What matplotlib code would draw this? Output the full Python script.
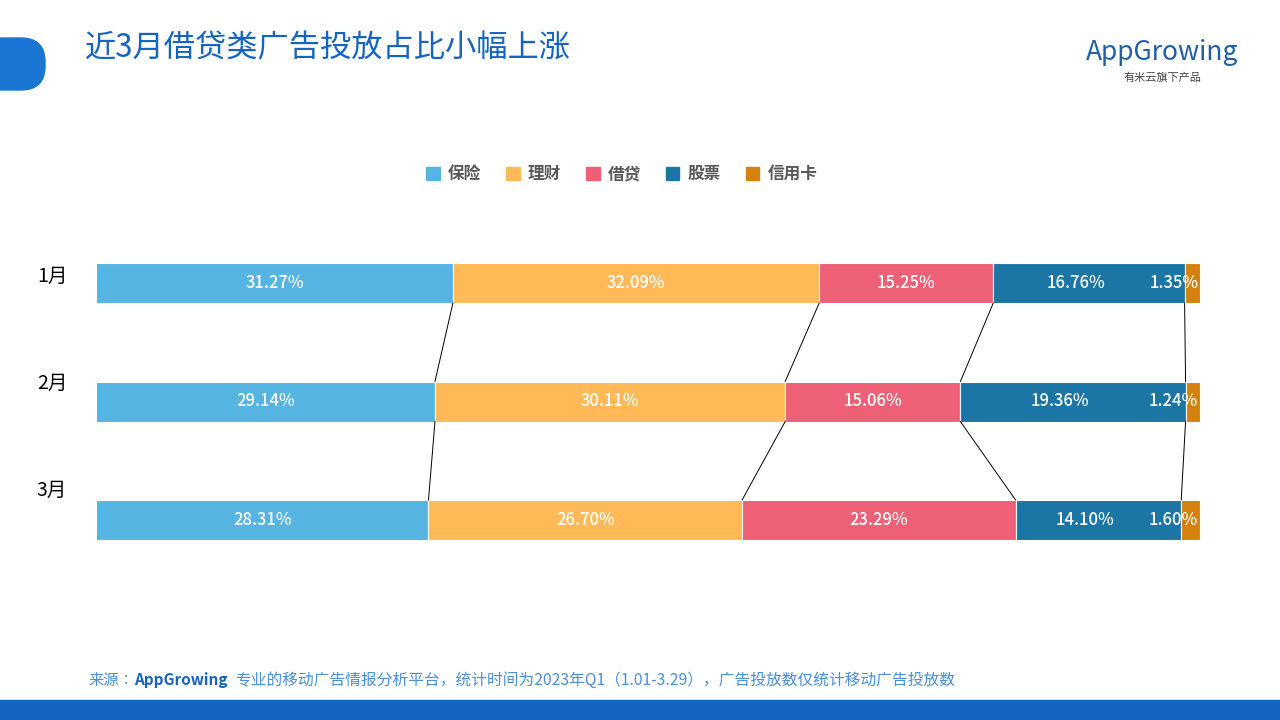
import matplotlib
matplotlib.use("Agg")
import matplotlib.pyplot as plt
from matplotlib.patches import FancyBboxPatch, Rectangle, Patch
import numpy as np

plt.rcParams["font.family"] = ["Noto Sans CJK SC", "Noto Sans CJK JP", "Noto Sans CJK TC", "DejaVu Sans"]

months = ["1月", "2月", "3月"]
series = ["保险", "理财", "借贷", "股票", "信用卡"]
values = [
    [31.27, 32.09, 15.25, 16.76, 1.35],
    [29.14, 30.11, 15.06, 19.36, 1.24],
    [28.31, 26.70, 23.29, 14.10, 1.60],
]
colors = ["#56B4E3", "#FFB957", "#EE6076", "#1B76A6", "#D4810E"]

fig = plt.figure(figsize=(12.8, 7.2), dpi=100)
W, H = 1280, 720

bg = fig.add_axes([0, 0, 1, 1])
bg.set_xlim(0, W); bg.set_ylim(H, 0); bg.axis("off")
bg.add_patch(FancyBboxPatch((-40, 38), 85, 52, boxstyle="round,pad=0,rounding_size=24", color="#1976D2"))
bg.add_patch(Rectangle((0, 700), W, 20, color="#1565C0"))

bh = 40/118.5
ax = fig.add_axes([96/W, 1-540/H, (1200-96)/W, (540-263)/H])
ax.set_xlim(0, 1)
ax.set_ylim(2+bh/2, -bh/2)
ax.axis("off")

ys = [0, 1, 2]
cums = []
for i, row in enumerate(values):
    tot = sum(row)
    fr = np.array(row)/tot
    left = np.concatenate([[0], np.cumsum(fr)[:-1]])
    cums.append(np.cumsum(fr))
    ax.barh(ys[i], fr, left=left, height=bh, color=colors, edgecolor="white", linewidth=0.8)
    for j, v in enumerate(row):
        if j == 4:
            ax.text(0.9985, ys[i], f"{v:.2f}%", ha="right", va="center", color="white", fontsize=12, weight="medium")
        elif j == 3:
            ax.text(left[j]+fr[j]*0.5 - 0.012, ys[i], f"{v:.2f}%", ha="center", va="center", color="white", fontsize=12, weight="medium")
        else:
            ax.text(left[j]+fr[j]/2, ys[i], f"{v:.2f}%", ha="center", va="center", color="white", fontsize=12, weight="medium")
for i in range(2):
    for k in range(4):
        ax.plot([cums[i][k], cums[i+1][k]], [ys[i]+bh/2, ys[i+1]-bh/2], color="black", lw=0.7)
    ax.plot([1, 1], [ys[i]+bh/2, ys[i+1]-bh/2], color="black", lw=0.7)

for i, m in enumerate(months):
    fig.text(52/W, 1-(276+i*107)/H, m, ha="center", va="center", fontsize=14, color="black")

handles = [Patch(color=c) for c in colors]
fig.legend(handles, series, loc="center", bbox_to_anchor=(622/W, 1-174/H), ncol=5, frameon=False,
           prop={"size": 12, "weight": "bold"}, labelcolor="#595959", handlelength=0.8, handleheight=0.8,
           columnspacing=1.5, handletextpad=0.5)

fig.text(85/W, 1-48/H, "近3月借贷类广告投放占比小幅上涨", fontsize=22.5, color="#1565C0", va="center", ha="left")
fig.text(1162/W, 1-52/H, "AppGrowing", fontsize=19, color="#1F5FA8", ha="center", va="center", style="italic")
fig.text(1162/W, 1-78/H, "有米云旗下产品", fontsize=8, color="#444444", ha="center", va="center")
fig.text(88/W, 1-680/H, "来源：", fontsize=11, color="#4A8FD8", va="center")
fig.text(134/W, 1-680/H, "AppGrowing", fontsize=11, color="#1565C0", va="center", weight="bold", style="italic")
fig.text(235/W, 1-680/H, "专业的移动广告情报分析平台，统计时间为2023年Q1（1.01-3.29），广告投放数仅统计移动广告投放数",
         fontsize=11.3, color="#4A8FD8", va="center")

fig.savefig("out.png", dpi=100)
